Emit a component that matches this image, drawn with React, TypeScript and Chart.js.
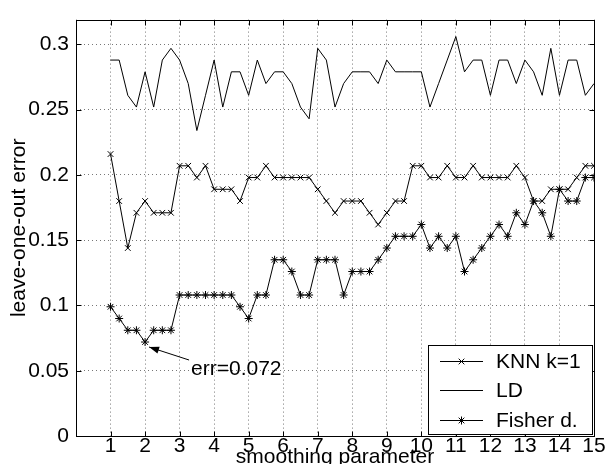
import React, { useEffect, useRef } from "react";
import { Chart, registerables } from "chart.js";
import { drawPoint } from "chart.js/helpers";
Chart.register(...registerables);

const smoothing = [
  1, 1.25, 1.5, 1.75, 2, 2.25, 2.5, 2.75, 3, 3.25, 3.5, 3.75, 4, 4.25, 4.5, 4.75,
  5, 5.25, 5.5, 5.75, 6, 6.25, 6.5, 6.75, 7, 7.25, 7.5, 7.75, 8, 8.25, 8.5, 8.75,
  9, 9.25, 9.5, 9.75, 10, 10.25, 10.5, 10.75, 11, 11.25, 11.5, 11.75, 12, 12.25,
  12.5, 12.75, 13, 13.25, 13.5, 13.75, 14, 14.25, 14.5, 14.75, 15,
];

const knnErr = [
  0.216, 0.18, 0.144, 0.171, 0.18, 0.171, 0.171, 0.171, 0.207, 0.207, 0.198, 0.207,
  0.189, 0.189, 0.189, 0.18, 0.198, 0.198, 0.207, 0.198, 0.198, 0.198, 0.198, 0.198,
  0.189, 0.18, 0.171, 0.18, 0.18, 0.18, 0.171, 0.162, 0.171, 0.18, 0.18, 0.207,
  0.207, 0.198, 0.198, 0.207, 0.198, 0.198, 0.207, 0.198, 0.198, 0.198, 0.198,
  0.207, 0.198, 0.18, 0.18, 0.189, 0.189, 0.189, 0.198, 0.207, 0.207,
];

const ldErr = [
  0.288, 0.288, 0.261, 0.252, 0.279, 0.252, 0.288, 0.297, 0.288, 0.27, 0.234, 0.261,
  0.288, 0.252, 0.279, 0.279, 0.261, 0.288, 0.27, 0.279, 0.279, 0.27, 0.252, 0.243,
  0.297, 0.288, 0.252, 0.27, 0.279, 0.279, 0.279, 0.27, 0.288, 0.279, 0.279, 0.279,
  0.279, 0.252, 0.27, 0.288, 0.306, 0.279, 0.288, 0.288, 0.261, 0.288, 0.288, 0.27,
  0.288, 0.279, 0.261, 0.297, 0.261, 0.288, 0.288, 0.261, 0.27,
];

const fisherErr = [
  0.099, 0.09, 0.081, 0.081, 0.072, 0.081, 0.081, 0.081, 0.108, 0.108, 0.108, 0.108,
  0.108, 0.108, 0.108, 0.099, 0.09, 0.108, 0.108, 0.135, 0.135, 0.126, 0.108, 0.108,
  0.135, 0.135, 0.135, 0.108, 0.126, 0.126, 0.126, 0.135, 0.144, 0.153, 0.153, 0.153,
  0.162, 0.144, 0.153, 0.144, 0.153, 0.126, 0.135, 0.144, 0.153, 0.162, 0.153, 0.171,
  0.162, 0.18, 0.171, 0.153, 0.189, 0.18, 0.18, 0.198, 0.198,
];

const xTicks = [1, 2, 3, 4, 5, 6, 7, 8, 9, 10, 11, 12, 13, 14, 15];
const yTicks = [0, 0.05, 0.1, 0.15, 0.2, 0.25, 0.3];
const seriesLabels = ["KNN k=1", "LD", "Fisher d."];
const xTitle = "smoothing parameter";
const yTitle = "leave-one-out error";
const noteText = "err=0.072";
const noteX = 2;
const noteY = 0.072;

const FONT_FAMILY = "'Liberation Sans', Arial, Helvetica, sans-serif";
const FONT_SIZE = 21;

export default function App() {
  const ref = useRef<HTMLCanvasElement>(null);

  useEffect(() => {
    document.body.style.margin = "0";
    const canvas = ref.current;
    if (!canvas) return;
    const font = { family: FONT_FAMILY, size: FONT_SIZE };
    const styles = [
      { pointStyle: "crossRot", radius: 4 },
      { pointStyle: false as any, radius: 0 },
      { pointStyle: "star", radius: 4 },
    ];

    const overlay = {
      id: "overlay",
      afterDraw(chart: any) {
        const { ctx, chartArea } = chart;
        const { left, right, top, bottom } = chartArea;
        const xs = chart.scales.x;
        const ys = chart.scales.y;
        const al = (v: number) => Math.round(v) + 0.5;
        ctx.save();
        ctx.strokeStyle = "#000";
        ctx.lineWidth = 1;
        ctx.setLineDash([]);
        // frame
        ctx.strokeRect(al(left), al(top), Math.round(right) - Math.round(left), Math.round(bottom) - Math.round(top));
        // inner ticks
        ctx.beginPath();
        for (const v of xTicks) {
          const px = al(xs.getPixelForValue(v));
          ctx.moveTo(px, al(bottom));
          ctx.lineTo(px, al(bottom) - 5);
          ctx.moveTo(px, al(top));
          ctx.lineTo(px, al(top) + 5);
        }
        for (const v of yTicks) {
          const py = al(ys.getPixelForValue(v));
          ctx.moveTo(al(left), py);
          ctx.lineTo(al(left) + 5, py);
          ctx.moveTo(al(right), py);
          ctx.lineTo(al(right) - 5, py);
        }
        ctx.stroke();

        // annotation
        const px = xs.getPixelForValue(noteX);
        const py = ys.getPixelForValue(noteY);
        const tipX = px + 4;
        const tipY = py + 5;
        const tailX = px + 44;
        const tailY = py + 18;
        ctx.beginPath();
        ctx.moveTo(tailX, tailY);
        ctx.lineTo(tipX, tipY);
        ctx.stroke();
        const ang = Math.atan2(tipY - tailY, tipX - tailX);
        const hl = 10;
        const hw = 3.5;
        const bx = tipX - hl * Math.cos(ang);
        const by = tipY - hl * Math.sin(ang);
        ctx.beginPath();
        ctx.moveTo(tipX, tipY);
        ctx.lineTo(bx + hw * Math.sin(ang), by - hw * Math.cos(ang));
        ctx.lineTo(bx - hw * Math.sin(ang), by + hw * Math.cos(ang));
        ctx.closePath();
        ctx.fillStyle = "#000";
        ctx.fill();
        ctx.font = `${FONT_SIZE}px ${FONT_FAMILY}`;
        ctx.textAlign = "left";
        ctx.textBaseline = "middle";
        ctx.fillText(noteText, px + 46, py + 27);

        // legend
        const lw = 164;
        const lh = 89;
        const lx = Math.round(right) - lw - 2;
        const ly = Math.round(bottom) - lh - 2;
        ctx.fillStyle = "#fff";
        ctx.fillRect(lx, ly, lw, lh);
        ctx.strokeStyle = "#000";
        ctx.strokeRect(lx + 0.5, ly + 0.5, lw, lh);
        const rows = [16, 45, 75];
        seriesLabels.forEach((lab, i) => {
          const ry = ly + rows[i];
          ctx.beginPath();
          ctx.moveTo(lx + 12, al(ry));
          ctx.lineTo(lx + 55, al(ry));
          ctx.stroke();
          if (styles[i].radius > 0) {
            drawPoint(ctx, { pointStyle: styles[i].pointStyle, radius: styles[i].radius, rotation: 0, borderWidth: 1 } as any, lx + 33.5, al(ry));
          }
          ctx.fillStyle = "#000";
          ctx.fillText(lab, lx + 68, ry + 1);
        });
        ctx.restore();
      },
    };

    const chart = new Chart(canvas, {
      type: "line",
      data: {
        datasets: [knnErr, ldErr, fisherErr].map((arr, i) => ({
          label: seriesLabels[i],
          data: smoothing.map((x, j) => ({ x, y: arr[j] })),
          borderColor: "#000",
          backgroundColor: "#000",
          borderWidth: 1,
          pointStyle: styles[i].pointStyle,
          pointRadius: styles[i].radius,
          pointBorderColor: "#000",
          pointBorderWidth: 1,
          fill: false,
          tension: 0,
        })),
      },
      options: {
        responsive: false,
        animation: false,
        devicePixelRatio: 1,
        events: [],
        layout: { padding: { top: 9, right: 13, left: 0, bottom: 0 } },
        plugins: { legend: { display: false }, tooltip: { enabled: false } },
        scales: {
          x: {
            type: "linear",
            min: 0,
            max: 15,
            afterBuildTicks: (s: any) => {
              s.ticks = [0, ...xTicks].map((v) => ({ value: v }));
            },
            afterFit: (s: any) => {
              s.height = 28;
            },
            ticks: {
              callback: (v: any) => (v === 0 ? "" : String(v)),
              font,
              color: "#000",
              padding: -2,
              maxRotation: 0,
              autoSkip: false,
            },
            grid: { color: "#777", lineWidth: 1, drawTicks: false },
            border: { display: false, dash: [1, 3] },
            title: { display: true, text: xTitle, font, color: "#000", padding: { top: 0, bottom: -6 } },
          },
          y: {
            type: "linear",
            min: 0,
            max: 0.319,
            afterBuildTicks: (s: any) => {
              s.ticks = yTicks.map((v) => ({ value: v }));
            },
            afterFit: (s: any) => {
              s.width = 76;
            },
            ticks: {
              callback: (v: any) => String(v),
              font,
              color: "#000",
              padding: 7,
              autoSkip: false,
            },
            grid: { color: "#777", lineWidth: 1, drawTicks: false },
            border: { display: false, dash: [1, 3] },
            title: { display: true, text: yTitle, font, color: "#000", padding: 7 },
          },
        },
      },
      plugins: [overlay],
    } as any);
    return () => chart.destroy();
  }, []);

  return (
    <div style={{ width: 607, height: 464 }}>
      <canvas ref={ref} width={607} height={464} style={{ display: "block" }} />
    </div>
  );
}
